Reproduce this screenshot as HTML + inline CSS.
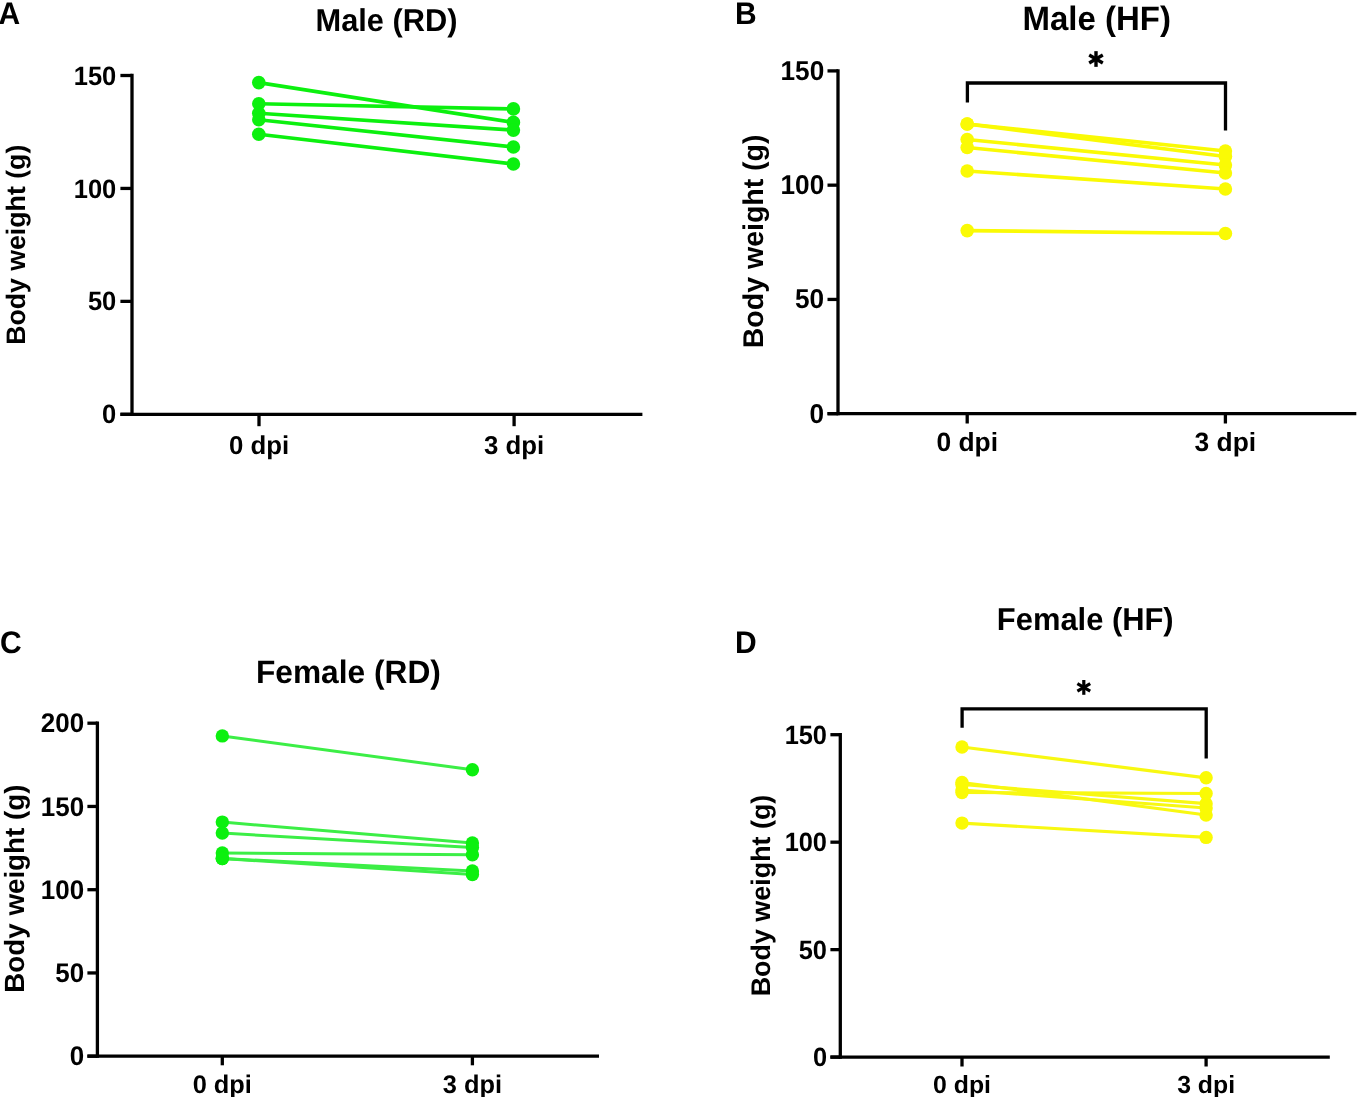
<!DOCTYPE html>
<html><head><meta charset="utf-8"><title>Body weight</title>
<style>html,body{margin:0;padding:0;background:#fff;width:1358px;height:1097px;overflow:hidden}
svg{display:block;will-change:transform;font-family:"Liberation Sans",sans-serif}</style></head>
<body>
<svg width="1358" height="1097" viewBox="0 0 1358 1097" font-family="Liberation Sans" font-weight="bold" fill="#000" text-rendering="geometricPrecision"><line x1="132.00" y1="73.85" x2="132.00" y2="415.95" stroke="#000" stroke-width="3.3" stroke-linecap="butt"/>
<line x1="120.40" y1="414.30" x2="642.40" y2="414.30" stroke="#000" stroke-width="3.3" stroke-linecap="butt"/>
<line x1="120.40" y1="414.30" x2="132.00" y2="414.30" stroke="#000" stroke-width="3.3" stroke-linecap="butt"/>
<text transform="translate(116.30,423.40) scale(1,1.04)" font-size="25.5" text-anchor="end" >0</text>
<line x1="120.40" y1="301.37" x2="132.00" y2="301.37" stroke="#000" stroke-width="3.3" stroke-linecap="butt"/>
<text transform="translate(116.30,310.47) scale(1,1.04)" font-size="25.5" text-anchor="end" >50</text>
<line x1="120.40" y1="188.43" x2="132.00" y2="188.43" stroke="#000" stroke-width="3.3" stroke-linecap="butt"/>
<text transform="translate(116.30,197.53) scale(1,1.04)" font-size="25.5" text-anchor="end" >100</text>
<line x1="120.40" y1="75.50" x2="132.00" y2="75.50" stroke="#000" stroke-width="3.3" stroke-linecap="butt"/>
<text transform="translate(116.30,84.60) scale(1,1.04)" font-size="25.5" text-anchor="end" >150</text>
<line x1="259.00" y1="414.30" x2="259.00" y2="426.20" stroke="#000" stroke-width="3.3" stroke-linecap="butt"/>
<text x="259.00" y="454.30" font-size="25.8" text-anchor="middle" >0 dpi</text>
<line x1="514.10" y1="414.30" x2="514.10" y2="426.20" stroke="#000" stroke-width="3.3" stroke-linecap="butt"/>
<text x="514.10" y="454.30" font-size="25.8" text-anchor="middle" >3 dpi</text>
<text transform="translate(386.50,31.30) scale(1,1.025)" font-size="30.8" text-anchor="middle" >Male (RD)</text>
<text transform="translate(-1.50,24.10) scale(1,1.04)" font-size="30" text-anchor="start" >A</text>
<text transform="translate(25.20,244.80) rotate(-90)" font-size="26.7" text-anchor="middle">Body weight (g)</text>
<line x1="258.80" y1="82.60" x2="513.40" y2="122.40" stroke="#0CF00F" stroke-width="3.6" stroke-linecap="butt"/>
<line x1="258.80" y1="103.80" x2="513.40" y2="108.90" stroke="#0CF00F" stroke-width="3.6" stroke-linecap="butt"/>
<line x1="258.80" y1="113.30" x2="513.40" y2="130.10" stroke="#0CF00F" stroke-width="3.6" stroke-linecap="butt"/>
<line x1="258.80" y1="119.70" x2="513.40" y2="147.00" stroke="#0CF00F" stroke-width="3.6" stroke-linecap="butt"/>
<line x1="258.80" y1="134.30" x2="513.40" y2="164.00" stroke="#0CF00F" stroke-width="3.6" stroke-linecap="butt"/>
<circle cx="258.80" cy="82.60" r="6.8" fill="#0CF00F"/>
<circle cx="513.40" cy="122.40" r="6.8" fill="#0CF00F"/>
<circle cx="258.80" cy="103.80" r="6.8" fill="#0CF00F"/>
<circle cx="513.40" cy="108.90" r="6.8" fill="#0CF00F"/>
<circle cx="258.80" cy="113.30" r="6.8" fill="#0CF00F"/>
<circle cx="513.40" cy="130.10" r="6.8" fill="#0CF00F"/>
<circle cx="258.80" cy="119.70" r="6.8" fill="#0CF00F"/>
<circle cx="513.40" cy="147.00" r="6.8" fill="#0CF00F"/>
<circle cx="258.80" cy="134.30" r="6.8" fill="#0CF00F"/>
<circle cx="513.40" cy="164.00" r="6.8" fill="#0CF00F"/>
<line x1="838.00" y1="69.25" x2="838.00" y2="415.35" stroke="#000" stroke-width="3.3" stroke-linecap="butt"/>
<line x1="827.50" y1="413.70" x2="1356.30" y2="413.70" stroke="#000" stroke-width="3.3" stroke-linecap="butt"/>
<line x1="827.50" y1="413.70" x2="838.00" y2="413.70" stroke="#000" stroke-width="3.3" stroke-linecap="butt"/>
<text transform="translate(824.20,422.50) scale(1,1.04)" font-size="26.2" text-anchor="end" >0</text>
<line x1="827.50" y1="299.43" x2="838.00" y2="299.43" stroke="#000" stroke-width="3.3" stroke-linecap="butt"/>
<text transform="translate(824.20,308.23) scale(1,1.04)" font-size="26.2" text-anchor="end" >50</text>
<line x1="827.50" y1="185.17" x2="838.00" y2="185.17" stroke="#000" stroke-width="3.3" stroke-linecap="butt"/>
<text transform="translate(824.20,193.97) scale(1,1.04)" font-size="26.2" text-anchor="end" >100</text>
<line x1="827.50" y1="70.90" x2="838.00" y2="70.90" stroke="#000" stroke-width="3.3" stroke-linecap="butt"/>
<text transform="translate(824.20,79.70) scale(1,1.04)" font-size="26.2" text-anchor="end" >150</text>
<line x1="967.20" y1="413.70" x2="967.20" y2="423.50" stroke="#000" stroke-width="3.3" stroke-linecap="butt"/>
<text x="967.20" y="451.00" font-size="26.4" text-anchor="middle" >0 dpi</text>
<line x1="1225.40" y1="413.70" x2="1225.40" y2="423.50" stroke="#000" stroke-width="3.3" stroke-linecap="butt"/>
<text x="1225.40" y="451.00" font-size="26.4" text-anchor="middle" >3 dpi</text>
<text transform="translate(1096.70,29.60) scale(1,1.025)" font-size="33" text-anchor="middle" >Male (HF)</text>
<text transform="translate(735.00,24.30) scale(1,1.04)" font-size="30" text-anchor="start" >B</text>
<text transform="translate(762.60,241.35) rotate(-90)" font-size="28.5" text-anchor="middle">Body weight (g)</text>
<polyline points="967.4,102.4 967.4,83 1225.5,83 1225.5,130.4" fill="none" stroke="#000" stroke-width="3.3" stroke-linejoin="miter"/>
<line x1="1096.00" y1="51.15" x2="1096.00" y2="66.85" stroke="#000" stroke-width="3.4" stroke-linecap="butt"/>
<line x1="1089.20" y1="55.08" x2="1102.80" y2="62.92" stroke="#000" stroke-width="3.4" stroke-linecap="butt"/>
<line x1="1089.20" y1="62.92" x2="1102.80" y2="55.08" stroke="#000" stroke-width="3.4" stroke-linecap="butt"/>
<line x1="967.20" y1="124.00" x2="1225.40" y2="151.00" stroke="#FAFA05" stroke-width="3.6" stroke-linecap="butt"/>
<line x1="967.20" y1="124.00" x2="1225.40" y2="156.50" stroke="#FAFA05" stroke-width="3.6" stroke-linecap="butt"/>
<line x1="967.20" y1="139.50" x2="1225.40" y2="165.00" stroke="#FAFA05" stroke-width="3.6" stroke-linecap="butt"/>
<line x1="967.20" y1="147.50" x2="1225.40" y2="173.00" stroke="#FAFA05" stroke-width="3.6" stroke-linecap="butt"/>
<line x1="967.20" y1="171.00" x2="1225.40" y2="189.00" stroke="#FAFA05" stroke-width="3.6" stroke-linecap="butt"/>
<line x1="967.20" y1="230.60" x2="1225.40" y2="233.50" stroke="#FAFA05" stroke-width="3.6" stroke-linecap="butt"/>
<circle cx="967.20" cy="124.00" r="6.8" fill="#FAFA05"/>
<circle cx="1225.40" cy="151.00" r="6.8" fill="#FAFA05"/>
<circle cx="967.20" cy="124.00" r="6.8" fill="#FAFA05"/>
<circle cx="1225.40" cy="156.50" r="6.8" fill="#FAFA05"/>
<circle cx="967.20" cy="139.50" r="6.8" fill="#FAFA05"/>
<circle cx="1225.40" cy="165.00" r="6.8" fill="#FAFA05"/>
<circle cx="967.20" cy="147.50" r="6.8" fill="#FAFA05"/>
<circle cx="1225.40" cy="173.00" r="6.8" fill="#FAFA05"/>
<circle cx="967.20" cy="171.00" r="6.8" fill="#FAFA05"/>
<circle cx="1225.40" cy="189.00" r="6.8" fill="#FAFA05"/>
<circle cx="967.20" cy="230.60" r="6.8" fill="#FAFA05"/>
<circle cx="1225.40" cy="233.50" r="6.8" fill="#FAFA05"/>
<line x1="97.40" y1="721.55" x2="97.40" y2="1057.85" stroke="#000" stroke-width="3.3" stroke-linecap="butt"/>
<line x1="87.40" y1="1056.20" x2="599.00" y2="1056.20" stroke="#000" stroke-width="3.3" stroke-linecap="butt"/>
<line x1="87.40" y1="1056.20" x2="97.40" y2="1056.20" stroke="#000" stroke-width="3.3" stroke-linecap="butt"/>
<text transform="translate(84.20,1065.40) scale(1,1.04)" font-size="26.0" text-anchor="end" >0</text>
<line x1="87.40" y1="972.95" x2="97.40" y2="972.95" stroke="#000" stroke-width="3.3" stroke-linecap="butt"/>
<text transform="translate(84.20,982.15) scale(1,1.04)" font-size="26.0" text-anchor="end" >50</text>
<line x1="87.40" y1="889.70" x2="97.40" y2="889.70" stroke="#000" stroke-width="3.3" stroke-linecap="butt"/>
<text transform="translate(84.20,898.90) scale(1,1.04)" font-size="26.0" text-anchor="end" >100</text>
<line x1="87.40" y1="806.45" x2="97.40" y2="806.45" stroke="#000" stroke-width="3.3" stroke-linecap="butt"/>
<text transform="translate(84.20,815.65) scale(1,1.04)" font-size="26.0" text-anchor="end" >150</text>
<line x1="87.40" y1="723.20" x2="97.40" y2="723.20" stroke="#000" stroke-width="3.3" stroke-linecap="butt"/>
<text transform="translate(84.20,732.40) scale(1,1.04)" font-size="26.0" text-anchor="end" >200</text>
<line x1="222.30" y1="1056.20" x2="222.30" y2="1065.30" stroke="#000" stroke-width="3.3" stroke-linecap="butt"/>
<text x="222.30" y="1092.60" font-size="25.4" text-anchor="middle" >0 dpi</text>
<line x1="472.40" y1="1056.20" x2="472.40" y2="1065.30" stroke="#000" stroke-width="3.3" stroke-linecap="butt"/>
<text x="472.40" y="1092.60" font-size="25.4" text-anchor="middle" >3 dpi</text>
<text transform="translate(348.40,683.10) scale(1,1.025)" font-size="31.7" text-anchor="middle" >Female (RD)</text>
<text transform="translate(0.00,653.00) scale(1,1.04)" font-size="30" text-anchor="start" >C</text>
<text transform="translate(24.40,888.65) rotate(-90)" font-size="27.75" text-anchor="middle">Body weight (g)</text>
<line x1="222.30" y1="735.90" x2="472.40" y2="769.80" stroke="#3CEE46" stroke-width="3.0" stroke-linecap="butt"/>
<line x1="222.30" y1="822.10" x2="472.40" y2="843.00" stroke="#3CEE46" stroke-width="3.0" stroke-linecap="butt"/>
<line x1="222.30" y1="833.10" x2="472.40" y2="847.60" stroke="#3CEE46" stroke-width="3.0" stroke-linecap="butt"/>
<line x1="222.30" y1="853.00" x2="472.40" y2="854.80" stroke="#3CEE46" stroke-width="3.0" stroke-linecap="butt"/>
<line x1="222.30" y1="858.50" x2="472.40" y2="871.00" stroke="#3CEE46" stroke-width="3.0" stroke-linecap="butt"/>
<line x1="222.30" y1="858.50" x2="472.40" y2="874.50" stroke="#3CEE46" stroke-width="3.0" stroke-linecap="butt"/>
<circle cx="222.30" cy="735.90" r="6.7" fill="#0CF00F"/>
<circle cx="472.40" cy="769.80" r="6.7" fill="#0CF00F"/>
<circle cx="222.30" cy="822.10" r="6.7" fill="#0CF00F"/>
<circle cx="472.40" cy="843.00" r="6.7" fill="#0CF00F"/>
<circle cx="222.30" cy="833.10" r="6.7" fill="#0CF00F"/>
<circle cx="472.40" cy="847.60" r="6.7" fill="#0CF00F"/>
<circle cx="222.30" cy="853.00" r="6.7" fill="#0CF00F"/>
<circle cx="472.40" cy="854.80" r="6.7" fill="#0CF00F"/>
<circle cx="222.30" cy="858.50" r="6.7" fill="#0CF00F"/>
<circle cx="472.40" cy="871.00" r="6.7" fill="#0CF00F"/>
<circle cx="222.30" cy="858.50" r="6.7" fill="#0CF00F"/>
<circle cx="472.40" cy="874.50" r="6.7" fill="#0CF00F"/>
<line x1="840.30" y1="733.05" x2="840.30" y2="1058.75" stroke="#000" stroke-width="3.3" stroke-linecap="butt"/>
<line x1="830.40" y1="1057.10" x2="1329.80" y2="1057.10" stroke="#000" stroke-width="3.3" stroke-linecap="butt"/>
<line x1="830.40" y1="1057.10" x2="840.30" y2="1057.10" stroke="#000" stroke-width="3.3" stroke-linecap="butt"/>
<text transform="translate(827.00,1066.30) scale(1,1.04)" font-size="25.4" text-anchor="end" >0</text>
<line x1="830.40" y1="949.63" x2="840.30" y2="949.63" stroke="#000" stroke-width="3.3" stroke-linecap="butt"/>
<text transform="translate(827.00,958.83) scale(1,1.04)" font-size="25.4" text-anchor="end" >50</text>
<line x1="830.40" y1="842.17" x2="840.30" y2="842.17" stroke="#000" stroke-width="3.3" stroke-linecap="butt"/>
<text transform="translate(827.00,851.37) scale(1,1.04)" font-size="25.4" text-anchor="end" >100</text>
<line x1="830.40" y1="734.70" x2="840.30" y2="734.70" stroke="#000" stroke-width="3.3" stroke-linecap="butt"/>
<text transform="translate(827.00,743.90) scale(1,1.04)" font-size="25.4" text-anchor="end" >150</text>
<line x1="962.00" y1="1057.10" x2="962.00" y2="1066.50" stroke="#000" stroke-width="3.3" stroke-linecap="butt"/>
<text x="962.00" y="1092.70" font-size="24.8" text-anchor="middle" >0 dpi</text>
<line x1="1206.10" y1="1057.10" x2="1206.10" y2="1066.50" stroke="#000" stroke-width="3.3" stroke-linecap="butt"/>
<text x="1206.10" y="1092.70" font-size="24.8" text-anchor="middle" >3 dpi</text>
<text transform="translate(1085.25,630.10) scale(1,1.025)" font-size="30.9" text-anchor="middle" >Female (HF)</text>
<text transform="translate(735.00,653.00) scale(1,1.04)" font-size="30" text-anchor="start" >D</text>
<text transform="translate(769.90,895.50) rotate(-90)" font-size="26.9" text-anchor="middle">Body weight (g)</text>
<polyline points="962.1,727.7 962.1,708.9 1206.2,708.9 1206.2,758.6" fill="none" stroke="#000" stroke-width="3.3" stroke-linejoin="miter"/>
<line x1="1083.80" y1="680.00" x2="1083.80" y2="694.80" stroke="#000" stroke-width="3.2" stroke-linecap="butt"/>
<line x1="1077.39" y1="683.70" x2="1090.21" y2="691.10" stroke="#000" stroke-width="3.2" stroke-linecap="butt"/>
<line x1="1077.39" y1="691.10" x2="1090.21" y2="683.70" stroke="#000" stroke-width="3.2" stroke-linecap="butt"/>
<line x1="962.00" y1="747.00" x2="1206.10" y2="777.80" stroke="#F8F812" stroke-width="3.2" stroke-linecap="butt"/>
<line x1="962.00" y1="782.50" x2="1206.10" y2="815.00" stroke="#F8F812" stroke-width="3.2" stroke-linecap="butt"/>
<line x1="962.00" y1="784.50" x2="1206.10" y2="803.70" stroke="#F8F812" stroke-width="3.2" stroke-linecap="butt"/>
<line x1="962.00" y1="790.00" x2="1206.10" y2="808.00" stroke="#F8F812" stroke-width="3.2" stroke-linecap="butt"/>
<line x1="962.00" y1="792.50" x2="1206.10" y2="793.50" stroke="#F8F812" stroke-width="3.2" stroke-linecap="butt"/>
<line x1="962.00" y1="823.10" x2="1206.10" y2="837.40" stroke="#F8F812" stroke-width="3.2" stroke-linecap="butt"/>
<circle cx="962.00" cy="747.00" r="6.7" fill="#FAFA05"/>
<circle cx="1206.10" cy="777.80" r="6.7" fill="#FAFA05"/>
<circle cx="962.00" cy="782.50" r="6.7" fill="#FAFA05"/>
<circle cx="1206.10" cy="815.00" r="6.7" fill="#FAFA05"/>
<circle cx="962.00" cy="784.50" r="6.7" fill="#FAFA05"/>
<circle cx="1206.10" cy="803.70" r="6.7" fill="#FAFA05"/>
<circle cx="962.00" cy="790.00" r="6.7" fill="#FAFA05"/>
<circle cx="1206.10" cy="808.00" r="6.7" fill="#FAFA05"/>
<circle cx="962.00" cy="792.50" r="6.7" fill="#FAFA05"/>
<circle cx="1206.10" cy="793.50" r="6.7" fill="#FAFA05"/>
<circle cx="962.00" cy="823.10" r="6.7" fill="#FAFA05"/>
<circle cx="1206.10" cy="837.40" r="6.7" fill="#FAFA05"/></svg>
</body></html>
